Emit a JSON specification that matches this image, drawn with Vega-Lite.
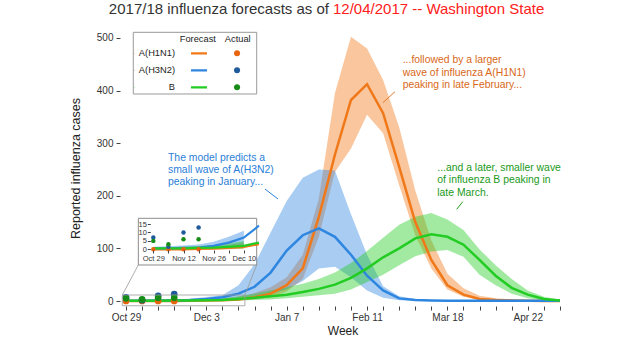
{
  "$schema": "https://vega.github.io/schema/vega-lite/v6.json",
  "width": 445,
  "height": 276,
  "autosize": {"type": "none"},
  "padding": {"left": 120, "top": 30, "right": 55, "bottom": 44},
  "config": {
    "view": {"stroke": null},
    "font": "Liberation Sans",
    "axis": {"grid": false, "domain": false, "labelColor": "#333", "tickColor": "#444", "titleColor": "#222", "titleFontWeight": "normal", "labelFlush": false, "labelOverlap": false}
  },
  "datasets": {
    "forecast": [
      {"series": "A(H1N1)", "w": 0, "med": 0, "lo": 0, "hi": 0.5},
      {"series": "A(H1N1)", "w": 1, "med": 0, "lo": 0, "hi": 0.5},
      {"series": "A(H1N1)", "w": 2, "med": 0, "lo": 0, "hi": 0.8},
      {"series": "A(H1N1)", "w": 3, "med": 0.2, "lo": 0, "hi": 1},
      {"series": "A(H1N1)", "w": 4, "med": 0.4, "lo": 0, "hi": 1.5},
      {"series": "A(H1N1)", "w": 5, "med": 0.8, "lo": 0.1, "hi": 2.5},
      {"series": "A(H1N1)", "w": 6, "med": 1.5, "lo": 0.3, "hi": 4},
      {"series": "A(H1N1)", "w": 7, "med": 3, "lo": 1, "hi": 8},
      {"series": "A(H1N1)", "w": 8, "med": 7, "lo": 3, "hi": 15},
      {"series": "A(H1N1)", "w": 9, "med": 14, "lo": 7, "hi": 26},
      {"series": "A(H1N1)", "w": 10, "med": 30, "lo": 18, "hi": 45},
      {"series": "A(H1N1)", "w": 11, "med": 62, "lo": 42, "hi": 88},
      {"series": "A(H1N1)", "w": 12, "med": 160, "lo": 122, "hi": 195},
      {"series": "A(H1N1)", "w": 13, "med": 278, "lo": 245, "hi": 395},
      {"series": "A(H1N1)", "w": 14, "med": 382, "lo": 290, "hi": 502},
      {"series": "A(H1N1)", "w": 15, "med": 412, "lo": 354, "hi": 480},
      {"series": "A(H1N1)", "w": 16, "med": 357, "lo": 319, "hi": 420},
      {"series": "A(H1N1)", "w": 17, "med": 255, "lo": 220, "hi": 330},
      {"series": "A(H1N1)", "w": 18, "med": 150, "lo": 125, "hi": 210},
      {"series": "A(H1N1)", "w": 19, "med": 78, "lo": 62, "hi": 115},
      {"series": "A(H1N1)", "w": 20, "med": 30, "lo": 22, "hi": 52},
      {"series": "A(H1N1)", "w": 21, "med": 12, "lo": 8, "hi": 24},
      {"series": "A(H1N1)", "w": 22, "med": 4, "lo": 2, "hi": 10},
      {"series": "A(H1N1)", "w": 23, "med": 2, "lo": 1, "hi": 5},
      {"series": "A(H1N1)", "w": 24, "med": 1, "lo": 0.3, "hi": 3},
      {"series": "A(H1N1)", "w": 25, "med": 0.5, "lo": 0, "hi": 1.5},
      {"series": "A(H1N1)", "w": 26, "med": 0.2, "lo": 0, "hi": 0.8},
      {"series": "A(H1N1)", "w": 27, "med": 0.1, "lo": 0, "hi": 0.4},
      {"series": "A(H3N2)", "w": 0, "med": 0.5, "lo": 0, "hi": 1.5},
      {"series": "A(H3N2)", "w": 1, "med": 0.6, "lo": 0, "hi": 1.8},
      {"series": "A(H3N2)", "w": 2, "med": 0.8, "lo": 0.1, "hi": 2.2},
      {"series": "A(H3N2)", "w": 3, "med": 1, "lo": 0.2, "hi": 2.8},
      {"series": "A(H3N2)", "w": 4, "med": 2, "lo": 0.4, "hi": 4.5},
      {"series": "A(H3N2)", "w": 5, "med": 4, "lo": 1, "hi": 7.5},
      {"series": "A(H3N2)", "w": 6, "med": 7, "lo": 2, "hi": 11},
      {"series": "A(H3N2)", "w": 7, "med": 14, "lo": 4, "hi": 30},
      {"series": "A(H3N2)", "w": 8, "med": 27, "lo": 8, "hi": 70},
      {"series": "A(H3N2)", "w": 9, "med": 54, "lo": 14, "hi": 130},
      {"series": "A(H3N2)", "w": 10, "med": 96, "lo": 22, "hi": 190},
      {"series": "A(H3N2)", "w": 11, "med": 125, "lo": 38, "hi": 234},
      {"series": "A(H3N2)", "w": 12, "med": 138, "lo": 62, "hi": 250},
      {"series": "A(H3N2)", "w": 13, "med": 122, "lo": 65, "hi": 248},
      {"series": "A(H3N2)", "w": 14, "med": 88, "lo": 45, "hi": 165},
      {"series": "A(H3N2)", "w": 15, "med": 48, "lo": 20, "hi": 88},
      {"series": "A(H3N2)", "w": 16, "med": 20, "lo": 6, "hi": 28},
      {"series": "A(H3N2)", "w": 17, "med": 5, "lo": 1.5, "hi": 9},
      {"series": "A(H3N2)", "w": 18, "med": 2, "lo": 0.5, "hi": 4},
      {"series": "A(H3N2)", "w": 19, "med": 1, "lo": 0.2, "hi": 2},
      {"series": "A(H3N2)", "w": 20, "med": 0.5, "lo": 0, "hi": 1},
      {"series": "A(H3N2)", "w": 21, "med": 0.3, "lo": 0, "hi": 0.6},
      {"series": "A(H3N2)", "w": 22, "med": 0.3, "lo": 0, "hi": 0.6},
      {"series": "A(H3N2)", "w": 23, "med": 0.3, "lo": 0, "hi": 0.6},
      {"series": "A(H3N2)", "w": 24, "med": 0.3, "lo": 0, "hi": 0.6},
      {"series": "A(H3N2)", "w": 25, "med": 0.3, "lo": 0, "hi": 0.6},
      {"series": "A(H3N2)", "w": 26, "med": 0.3, "lo": 0, "hi": 0.6},
      {"series": "A(H3N2)", "w": 27, "med": 0.3, "lo": 0, "hi": 0.6},
      {"series": "B", "w": 0, "med": 0.5, "lo": 0, "hi": 1},
      {"series": "B", "w": 1, "med": 0.5, "lo": 0, "hi": 1.2},
      {"series": "B", "w": 2, "med": 0.6, "lo": 0, "hi": 1.5},
      {"series": "B", "w": 3, "med": 0.8, "lo": 0.1, "hi": 2},
      {"series": "B", "w": 4, "med": 1, "lo": 0.2, "hi": 2.5},
      {"series": "B", "w": 5, "med": 1.5, "lo": 0.3, "hi": 3.5},
      {"series": "B", "w": 6, "med": 2, "lo": 0.5, "hi": 5},
      {"series": "B", "w": 7, "med": 4, "lo": 1, "hi": 9},
      {"series": "B", "w": 8, "med": 6, "lo": 2, "hi": 14},
      {"series": "B", "w": 9, "med": 9, "lo": 3, "hi": 20},
      {"series": "B", "w": 10, "med": 12, "lo": 5, "hi": 26},
      {"series": "B", "w": 11, "med": 17, "lo": 8, "hi": 33},
      {"series": "B", "w": 12, "med": 23, "lo": 11, "hi": 42},
      {"series": "B", "w": 13, "med": 31, "lo": 14, "hi": 54},
      {"series": "B", "w": 14, "med": 44, "lo": 22, "hi": 72},
      {"series": "B", "w": 15, "med": 62, "lo": 36, "hi": 95},
      {"series": "B", "w": 16, "med": 83, "lo": 50, "hi": 120},
      {"series": "B", "w": 17, "med": 100, "lo": 68, "hi": 145},
      {"series": "B", "w": 18, "med": 119, "lo": 85, "hi": 160},
      {"series": "B", "w": 19, "med": 127, "lo": 94, "hi": 167},
      {"series": "B", "w": 20, "med": 122, "lo": 97, "hi": 155},
      {"series": "B", "w": 21, "med": 107, "lo": 84, "hi": 135},
      {"series": "B", "w": 22, "med": 78, "lo": 50, "hi": 98},
      {"series": "B", "w": 23, "med": 48, "lo": 30, "hi": 68},
      {"series": "B", "w": 24, "med": 25, "lo": 14, "hi": 42},
      {"series": "B", "w": 25, "med": 12, "lo": 5, "hi": 20},
      {"series": "B", "w": 26, "med": 4, "lo": 1.5, "hi": 8},
      {"series": "B", "w": 27, "med": 1, "lo": 0.3, "hi": 2.5}
    ],
    "actual": [
      {"series": "A(H1N1)", "w": 0, "cases": 0},
      {"series": "A(H1N1)", "w": 1, "cases": 0},
      {"series": "A(H1N1)", "w": 2, "cases": 0},
      {"series": "A(H1N1)", "w": 3, "cases": 0},
      {"series": "A(H3N2)", "w": 0, "cases": 7},
      {"series": "A(H3N2)", "w": 1, "cases": 1.5},
      {"series": "A(H3N2)", "w": 2, "cases": 10},
      {"series": "A(H3N2)", "w": 3, "cases": 13},
      {"series": "B", "w": 0, "cases": 5},
      {"series": "B", "w": 1, "cases": 3},
      {"series": "B", "w": 2, "cases": 6},
      {"series": "B", "w": 3, "cases": 6}
    ]
  },
  "layer": [
    {
      "layer": [
        {
          "data": {"name": "forecast"},
          "mark": {"type": "area", "opacity": 0.42},
          "encoding": {
            "x": {"field": "w", "type": "quantitative",
              "scale": {"domain": [-0.3734, 27.318], "nice": false, "zero": false},
              "axis": {"orient": "bottom", "values": [0,1,2,3,4,5,6,7,8,9,10,11,12,13,14,15,16,17,18,19,20,21,22,23,24,25,26,27], "tickCount": 28,
                "labelExpr": "datum.value % 5 === 0 ? ['Oct 29','Dec 3','Jan 7','Feb 11','Mar 18','Apr 22'][datum.value / 5] : ''",
                "tickSize": 4, "labelFontSize": 10, "labelPadding": 2, "title": "Week", "titleFontSize": 12, "titlePadding": 3}},
            "y": {"field": "lo", "type": "quantitative",
              "scale": {"domain": [-9.5, 515], "nice": false, "zero": false},
              "axis": {"orient": "left", "values": [0, 100, 200, 300, 400, 500], "tickSize": 4, "labelFontSize": 10, "labelPadding": 3, "title": "Reported influenza cases", "titleFontSize": 12.5, "titlePadding": 14}},
            "y2": {"field": "hi"},
            "color": {"field": "series", "type": "nominal",
              "scale": {"domain": ["A(H1N1)", "A(H3N2)", "B"], "range": ["#f07818", "#2f86e0", "#22cc22"]},
              "legend": {"title": null, "orient": "none", "legendX": 10, "legendY": 15.2, "padding": 0,
                "symbolOpacity": 0, "symbolSize": 1, "symbolStrokeWidth": 0,
                "labelAlign": "right", "labelOffset": 35.7, "labelFontSize": 9.3, "labelColor": "#222",
                "clipHeight": 16.2, "rowPadding": 0}}
          }
        },
        {
          "data": {"name": "forecast"},
          "mark": {"type": "line", "strokeWidth": 2.5},
          "encoding": {
            "x": {"field": "w", "type": "quantitative",
              "axis": {"orient": "bottom", "values": [0,1,2,3,4,5,6,7,8,9,10,11,12,13,14,15,16,17,18,19,20,21,22,23,24,25,26,27], "tickCount": 28,
                "labelExpr": "datum.value % 5 === 0 ? ['Oct 29','Dec 3','Jan 7','Feb 11','Mar 18','Apr 22'][datum.value / 5] : ''",
                "tickSize": 4, "labelFontSize": 10, "labelPadding": 2, "title": "Week", "titleFontSize": 12, "titlePadding": 3}},
            "y": {"field": "med", "type": "quantitative", "title": "Reported influenza cases"},
            "stroke": {"field": "series", "type": "nominal",
              "scale": {"range": ["#f07818", "#2f86e0", "#22cc22"]},
              "legend": {"title": "Forecast", "orient": "none", "legendX": 59.7, "legendY": 4.65, "padding": 0,
                "symbolType": "stroke", "symbolSize": 256, "symbolStrokeWidth": 2.2, "symbolOffset": 9.8,
                "labelExpr": "''", "titleFontSize": 9.3, "titleFontWeight": "normal", "titleColor": "#222",
                "titlePadding": 1.25, "titleAnchor": "start", "clipHeight": 16.2, "rowPadding": 0}}
          }
        },
        {
          "data": {"name": "actual"},
          "mark": {"type": "point", "filled": true, "size": 45, "opacity": 1},
          "encoding": {
            "x": {"field": "w", "type": "quantitative", "title": "Week"},
            "y": {"field": "cases", "type": "quantitative", "title": "Reported influenza cases"},
            "fill": {"field": "series", "type": "nominal",
              "scale": {"range": ["#e8640c", "#1f5a9c", "#168c16"]},
              "legend": {"title": "Actual", "orient": "none", "legendX": 104.8, "legendY": 4.65, "padding": 0,
                "symbolType": "circle", "symbolSize": 36, "symbolStrokeWidth": 0, "symbolOffset": 7.25,
                "labelExpr": "''", "titleFontSize": 9.3, "titleFontWeight": "normal", "titleColor": "#222",
                "titlePadding": 1.25, "titleAnchor": "start", "clipHeight": 16.2, "rowPadding": 0,
                "encode": {"symbols": {"update": {"fill": {"signal": "datum.value == 'A(H1N1)' ? '#f4801c' : datum.value == 'A(H3N2)' ? '#2c8ae6' : '#20cc20'"}, "opacity": {"value": 1}}}}}}
          }
        },
        {
          "data": {"values": [{}]},
          "mark": {"type": "rect", "fill": null, "stroke": "#999999", "strokeWidth": 0.8},
          "encoding": {
            "x": {"datum": -0.23, "type": "quantitative"},
            "x2": {"datum": 7.4},
            "y": {"datum": -9, "type": "quantitative"},
            "y2": {"datum": 11.4}
          }
        },
        {
          "data": {"values": [{}]},
          "mark": {"type": "rule", "stroke": "#999999", "strokeWidth": 0.8},
          "encoding": {
            "x": {"datum": -0.23, "type": "quantitative"},
            "y": {"datum": 11.4, "type": "quantitative"},
            "x2": {"datum": 0.765},
            "y2": {"datum": 68.4}
          }
        },
        {
          "data": {"values": [{}]},
          "mark": {"type": "rule", "stroke": "#999999", "strokeWidth": 0.8},
          "encoding": {
            "x": {"datum": 7.4, "type": "quantitative"},
            "y": {"datum": 11.4, "type": "quantitative"},
            "x2": {"datum": 8.133},
            "y2": {"datum": 68.4}
          }
        },
        {
          "data": {"values": [{}]},
          "mark": {"type": "text", "align": "left", "baseline": "top", "fontSize": 10.4, "lineHeight": 12.2, "color": "#2a80d8"},
          "encoding": {
            "x": {"datum": 2.614, "type": "quantitative"},
            "y": {"datum": 281.6, "type": "quantitative"},
            "text": {"value": ["The model predicts a", "small wave of A(H3N2)", "peaking in January..."]}
          }
        },
        {
          "data": {"values": [{}]},
          "mark": {"type": "rule", "stroke": "#2a80d8", "strokeWidth": 1},
          "encoding": {
            "x": {"datum": 8.65, "type": "quantitative"},
            "y": {"datum": 212.8, "type": "quantitative"},
            "x2": {"datum": 9.46},
            "y2": {"datum": 193.8}
          }
        },
        {
          "data": {"values": [{}]},
          "mark": {"type": "text", "align": "left", "baseline": "top", "fontSize": 10.4, "lineHeight": 12.6, "color": "#d86818"},
          "encoding": {
            "x": {"datum": 17.22, "type": "quantitative"},
            "y": {"datum": 467.1, "type": "quantitative"},
            "text": {"value": ["...followed by a larger", "wave of influenza A(H1N1)", "peaking in late February..."]}
          }
        },
        {
          "data": {"values": [{}]},
          "mark": {"type": "rule", "stroke": "#e07a2a", "strokeWidth": 1},
          "encoding": {
            "x": {"datum": 16.74, "type": "quantitative"},
            "y": {"datum": 397.8, "type": "quantitative"},
            "x2": {"datum": 15.99},
            "y2": {"datum": 376.9}
          }
        },
        {
          "data": {"values": [{}]},
          "mark": {"type": "text", "align": "left", "baseline": "top", "fontSize": 10.4, "lineHeight": 12.5, "color": "#1a9a1a"},
          "encoding": {
            "x": {"datum": 19.37, "type": "quantitative"},
            "y": {"datum": 262.6, "type": "quantitative"},
            "text": {"value": ["...and a later, smaller wave", "of influenza B peaking in", "late March."]}
          }
        },
        {
          "data": {"values": [{}]},
          "mark": {"type": "rule", "stroke": "#1a9a1a", "strokeWidth": 1},
          "encoding": {
            "x": {"datum": 20.95, "type": "quantitative"},
            "y": {"datum": 188.7, "type": "quantitative"},
            "x2": {"datum": 20.58},
            "y2": {"datum": 174.3}
          }
        },
        {
          "data": {"values": [{}]},
          "mark": {"type": "rect", "fill": "white", "stroke": "#9a9a9a", "strokeWidth": 1},
          "encoding": {
            "x": {"datum": 0.454, "type": "quantitative"},
            "x2": {"datum": 8.133},
            "y": {"datum": 510.6, "type": "quantitative"},
            "y2": {"datum": 393.4}
          }
        },
        {
          "data": {"values": [{}]},
          "mark": {"type": "text", "align": "right", "baseline": "alphabetic", "fontSize": 15, "color": "#333333", "dx": -2},
          "encoding": {
            "x": {"datum": 12.757, "type": "quantitative"},
            "y": {"datum": 545.4, "type": "quantitative"},
            "text": {"value": "2017/18 influenza forecasts as of"}
          }
        },
        {
          "data": {"values": [{}]},
          "mark": {"type": "text", "align": "left", "baseline": "alphabetic", "fontSize": 15, "color": "#ff2020", "dx": 2},
          "encoding": {
            "x": {"datum": 12.757, "type": "quantitative"},
            "y": {"datum": 545.4, "type": "quantitative"},
            "text": {"value": "12/04/2017 -- Washington State"}
          }
        }
      ]
    },
    {
      "layer": [
        {
          "data": {"values": [{}]},
          "mark": {"type": "rect", "fill": "white", "stroke": "#8c8c8c", "strokeWidth": 1},
          "encoding": {
            "x": {"datum": -0.993, "type": "quantitative",
              "scale": {"domain": [-0.2, 6.85], "range": [30.3, 136.7], "nice": false, "zero": false},
              "axis": {"orient": "bottom", "offset": -56, "values": [0, 1, 2, 3, 4, 5, 6], "tickCount": 7,
                "labelExpr": "datum.value % 2 === 0 ? ['Oct 29','Nov 12','Nov 26','Dec 10'][datum.value / 2] : ''",
                "tickSize": 3, "labelFontSize": 7.5, "labelPadding": 1, "title": null, "zindex": 1}},
            "x2": {"datum": 6.85},
            "y": {"datum": 18.4, "type": "quantitative",
              "scale": {"domain": [-1, 18.4], "range": [221, 188.3], "nice": false, "zero": false},
              "axis": {"orient": "left", "offset": -30.3, "values": [0, 5, 10, 15], "tickSize": 3, "labelFontSize": 7.5, "labelPadding": 1, "title": null, "zindex": 1}},
            "y2": {"datum": -9.3}
          }
        },
        {
          "data": {"name": "forecast"},
          "transform": [{"filter": "datum.w <= 6"}],
          "mark": {"type": "area", "opacity": 0.42},
          "encoding": {
            "x": {"field": "w", "type": "quantitative"},
            "y": {"field": "lo", "type": "quantitative"},
            "y2": {"field": "hi"},
            "color": {"field": "series", "type": "nominal"}
          }
        },
        {
          "data": {"name": "forecast"},
          "transform": [{"filter": "datum.w <= 7"}],
          "mark": {"type": "line", "strokeWidth": 2.2},
          "encoding": {
            "x": {"field": "w", "type": "quantitative"},
            "y": {"field": "med", "type": "quantitative"},
            "stroke": {"field": "series", "type": "nominal"}
          }
        },
        {
          "data": {"name": "actual"},
          "mark": {"type": "point", "filled": true, "size": 20, "opacity": 1},
          "encoding": {
            "x": {"field": "w", "type": "quantitative"},
            "y": {"field": "cases", "type": "quantitative"},
            "fill": {"field": "series", "type": "nominal"}
          }
        }
      ]
    }
  ],
  "resolve": {"scale": {"x": "independent", "y": "independent"}, "axis": {"x": "independent", "y": "independent"}}
}
